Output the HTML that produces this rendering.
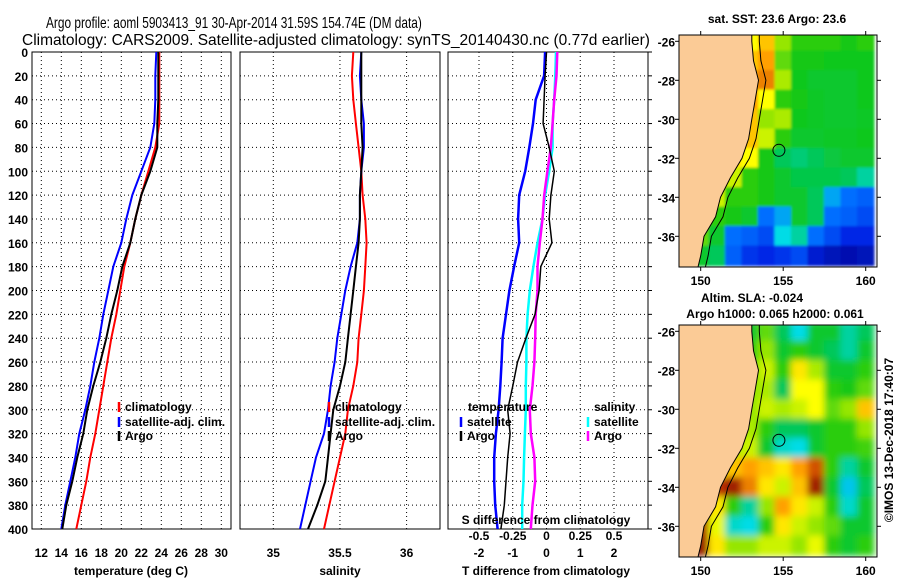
<!DOCTYPE html>
<html><head><meta charset="utf-8"><style>
html,body{margin:0;padding:0;background:#fff;}
svg{display:block;font-family:"Liberation Sans",sans-serif;}
.t{font-size:12px;font-weight:bold;}
</style></head><body>
<svg id="c" width="900" height="580" viewBox="0 0 900 580">
<defs>
<filter id="b1" x="-5%" y="-5%" width="110%" height="110%"><feGaussianBlur stdDeviation="1.2"/></filter>
<filter id="b2" x="-5%" y="-5%" width="110%" height="110%"><feGaussianBlur stdDeviation="3.5"/></filter>
<clipPath id="cm1"><rect x="679" y="35" width="198" height="232"/></clipPath>
<clipPath id="cm2"><rect x="679" y="325" width="198" height="232"/></clipPath>
</defs>
<text id="tt1" x="0" y="28" font-size="16">Argo profile: aoml 5903413_91 30-Apr-2014 31.59S 154.74E (DM data)</text>
<text id="tt2" x="0" y="45" font-size="16">Climatology: CARS2009. Satellite-adjusted climatology: synTS_20140430.nc (0.77d earlier)</text>
<g id="g"></g>
</svg>
<script>
// ---- data ----
const depths = [0,20,40,60,80,100,120,140,160,180,200,220,240,260,280,300,320,340,360,380,400];
const tempArgo = [23.7,23.7,23.7,23.6,23.6,22.9,22.0,21.4,20.9,20.1,19.6,19.0,18.5,17.9,17.2,16.6,16.2,15.6,15.1,14.5,14.1];
const tempClim = [23.8,23.8,23.8,23.8,23.4,22.7,22.0,21.4,20.9,20.3,19.9,19.5,19.0,18.6,18.2,17.8,17.4,16.9,16.5,16.0,15.5];
const tempSat  = [23.5,23.4,23.4,23.3,22.9,22.0,21.1,20.5,20.0,19.2,18.7,18.2,17.8,17.3,16.9,16.4,15.8,15.4,14.9,14.4,14.0];
const salArgo = [35.66,35.66,35.66,35.66,35.67,35.66,35.65,35.65,35.64,35.62,35.60,35.58,35.56,35.54,35.50,35.45,35.43,35.41,35.39,35.33,35.26];
const salClim = [35.60,35.59,35.60,35.62,35.64,35.66,35.67,35.69,35.70,35.69,35.68,35.66,35.64,35.63,35.60,35.56,35.54,35.50,35.46,35.42,35.38];
const salSat  = [35.66,35.65,35.66,35.68,35.68,35.66,35.65,35.65,35.63,35.58,35.54,35.51,35.48,35.46,35.43,35.41,35.38,35.32,35.28,35.24,35.20];
const dTArgo = [0.00,-0.04,-0.07,-0.10,0.08,0.23,0.13,0.08,0.16,-0.17,-0.22,-0.34,-0.61,-0.86,-1.00,-1.15,-1.08,-1.15,-1.20,-1.25,-1.35];
const dTSat  = [-0.04,-0.07,-0.32,-0.40,-0.51,-0.63,-0.81,-0.84,-0.81,-0.96,-1.10,-1.20,-1.30,-1.33,-1.37,-1.42,-1.50,-1.55,-1.55,-1.52,-1.45];
const dSSat  = [0.070,0.065,0.057,0.045,0.045,0.020,-0.010,-0.030,-0.067,-0.097,-0.124,-0.140,-0.149,-0.149,-0.153,-0.153,-0.160,-0.166,-0.170,-0.180,-0.180];
const dSArgo = [0.080,0.074,0.057,0.045,0.032,0.007,-0.017,-0.030,-0.050,-0.067,-0.067,-0.080,-0.084,-0.090,-0.104,-0.124,-0.116,-0.090,-0.084,-0.104,-0.116];
const depthTicks = [0,20,40,60,80,100,120,140,160,180,200,220,240,260,280,300,320,340,360,380,400];
const tempTicks = [12,14,16,18,20,22,24,26,28,30];
const salTicks = [35,35.5,36];
const salTickLabels = ["35","35.5","36"];
const dTTicks = [-2,-1,0,1,2];
const dSTicks = [-0.5,-0.25,0,0.25,0.5];
const dSTickLabels = ["-0.5","-0.25","0","0.25","0.5"];
const mapLons = [149,150,151,152,153,154,155,156,157,158,159,160];
const mapLats = [-26,-27,-28,-29,-30,-31,-32,-33,-34,-35,-36,-37];
const sstGrid = [
[.8,.8,.8,.8,.8,.85,.7,.6,.6,.6,.58,.6],
[.8,.8,.8,.8,.85,.88,.65,.58,.58,.57,.57,.57],
[.8,.8,.8,.8,.88,.9,.72,.57,.55,.55,.55,.57],
[.8,.8,.8,.8,.88,.8,.6,.58,.56,.55,.55,.57],
[.8,.8,.8,.8,.85,.7,.72,.57,.56,.55,.55,.56],
[.8,.8,.8,.8,.85,.75,.6,.55,.55,.56,.56,.57],
[.8,.8,.8,.82,.8,.58,.5,.48,.5,.53,.55,.55],
[.8,.8,.75,.75,.6,.58,.55,.52,.52,.52,.5,.45],
[.8,.72,.75,.6,.6,.58,.55,.55,.5,.35,.3,.28],
[.75,.7,.6,.58,.55,.3,.35,.55,.5,.3,.28,.25],
[.7,.65,.55,.3,.28,.25,.4,.45,.3,.25,.2,.2],
[.6,.55,.5,.28,.22,.2,.22,.25,.15,.1,.08,.1]];
const slaGrid = [
[.7,.7,.7,.7,.55,.65,.5,.4,.55,.55,.45,.5],
[.7,.7,.7,.7,.6,.7,.55,.6,.55,.5,.45,.55],
[.7,.7,.7,.7,.65,.75,.6,.82,.72,.55,.55,.6],
[.7,.7,.7,.7,.7,.72,.5,.8,.8,.6,.58,.65],
[.7,.7,.7,.7,.7,.75,.72,.75,.8,.65,.7,.85],
[.7,.7,.7,.7,.72,.6,.5,.5,.55,.6,.6,.7],
[.7,.7,.7,.72,.75,.55,.42,.4,.55,.6,.6,.62],
[.7,.7,.78,.85,.88,.85,.82,.88,.93,.6,.45,.55],
[.8,.88,.95,.98,.9,.82,.75,.85,.98,.55,.38,.5],
[.88,.9,.82,.6,.45,.7,.88,.82,.75,.6,.42,.55],
[.92,.97,.78,.42,.4,.6,.82,.75,.7,.65,.55,.55],
[.9,.99,.82,.7,.7,.75,.75,.7,.78,.6,.55,.6]];
const coastLat = [-25.6,-26,-27,-28,-29,-30,-31,-32,-33,-34,-35,-36,-37,-37.7];
const coastLon = [153.1,153.1,153.2,153.5,153.3,153.1,152.9,152.5,151.8,151.2,150.9,150.2,150.0,149.8];
const argoLon = 154.74, argoLat = -31.59;

// ---- titles: fit to measured extents ----
function fitTitle(id,x0,x1){
  const t=document.getElementById(id);
  const w=t.getComputedTextLength();
  const s=(x1-x0)/w;
  t.setAttribute('transform','translate('+x0+',0) scale('+s.toFixed(4)+',1)');
}
fitTitle('tt1',46,422);
fitTitle('tt2',22,650);

// ---- helpers ----
const NS="http://www.w3.org/2000/svg";
const G=document.getElementById('g');
function mk(tag,attrs,parent){const e=document.createElementNS(NS,tag);for(const k in attrs)e.setAttribute(k,attrs[k]);(parent||G).appendChild(e);return e;}
const Y0=52,Y1=529;
const yD=d=>Y0+(d/400)*(Y1-Y0);
const xT=t=>41.3+(t-12)*10;
const xS=s=>273.3+(s-35)*133.3;
const xDT=v=>546.5+v*33.75;
const xDS=v=>546.5+v*135;

function panel(x0,x1,name){
  const g=mk('g',{});  
  mk('rect',{x:x0,y:Y0,width:x1-x0,height:Y1-Y0,fill:'none',stroke:'#000','stroke-width':1},g);
  depthTicks.forEach(d=>{ if(d>0&&d<400) mk('line',{x1:x0,x2:x1,y1:yD(d),y2:yD(d),stroke:'#000','stroke-width':1,'stroke-dasharray':'1,3'},g);});
  return g;
}
function vgrid(g,xs){xs.forEach(x=>{mk('line',{x1:x,x2:x,y1:Y0,y2:Y1,stroke:'#000','stroke-width':1,'stroke-dasharray':'1,3'},g);});}
function line(g,xs,ys,col,name,w){
  const pts=xs.map((v,i)=>xs[i].toFixed(1)+','+ys[i].toFixed(1)).join(' ');
  const p=mk('polyline',{points:pts,fill:'none',stroke:col,'stroke-width':w||2},g);
  
  
}
function txt(g,x,y,s,anchor,extra){const t=mk('text',Object.assign({x:x,y:y,'text-anchor':anchor||'start',class:'t'},extra||{}),g);t.textContent=s;return t;}
function legend(g,x,y,col,label){mk('line',{x1:x,x2:x,y1:y-9,y2:y+1,stroke:col,'stroke-width':2.5},g);txt(g,x+6,y,label);}

// ---- panel 1: temperature ----
const p1=panel(32,231,'temperature-panel');
vgrid(p1,tempTicks.map(xT));
depthTicks.forEach(d=>{const t=txt(p1,28,yD(d)+5,String(d),'end');});
tempTicks.forEach(t=>{txt(p1,xT(t),557,String(t),'middle');});
txt(p1,131,575,'temperature (deg C)','middle');
line(p1,tempClim.map(xT),depths.map(yD),'#f00','temp-climatology-line');
line(p1,tempSat.map(xT),depths.map(yD),'#00f','temp-satellite-line');
line(p1,tempArgo.map(xT),depths.map(yD),'#000','temp-argo-line');
legend(p1,119,411,'#f00','climatology');legend(p1,119,426,'#00f','satellite-adj. clim.');legend(p1,119,440,'#000','Argo');

// ---- panel 2: salinity ----
const p2=panel(240,440,'salinity-panel');
vgrid(p2,salTicks.map(xS));
salTicks.forEach((s,i)=>{txt(p2,xS(s),557,salTickLabels[i],'middle');});
txt(p2,340,575,'salinity','middle');
line(p2,salClim.map(xS),depths.map(yD),'#f00','sal-climatology-line');
line(p2,salSat.map(xS),depths.map(yD),'#00f','sal-satellite-line');
line(p2,salArgo.map(xS),depths.map(yD),'#000','sal-argo-line');
legend(p2,329,411,'#f00','climatology');legend(p2,329,426,'#00f','satellite-adj. clim.');legend(p2,329,440,'#000','Argo');

// ---- panel 3: differences ----
const p3=panel(448,648,'difference-panel');
vgrid(p3,dTTicks.map(xDT));
depthTicks.forEach(d=>{mk('line',{x1:648,x2:652,y1:yD(d),y2:yD(d),stroke:'#000'},p3);});
dTTicks.forEach(t=>{txt(p3,xDT(t),557,String(t),'middle');});
txt(p3,546,575,'T difference from climatology','middle');
line(p3,dSSat.map(xDS),depths.map(yD),'#0ff','sdiff-satellite-line',2.5);
line(p3,dSArgo.map(xDS),depths.map(yD),'#f0f','sdiff-argo-line',2.5);
line(p3,dTSat.map(xDT),depths.map(yD),'#00f','tdiff-satellite-line',2.5);
line(p3,dTArgo.map(xDT),depths.map(yD),'#000','tdiff-argo-line',1.5);
txt(p3,468,411,'temperature');txt(p3,594,411,'salinity');
legend(p3,461,426,'#00f','satellite');legend(p3,461,440,'#000','Argo');
legend(p3,588,426,'#0ff','satellite');legend(p3,588,440,'#f0f','Argo');
txt(p3,546,524,'S difference from climatology','middle');
dSTicks.forEach((s,i)=>{txt(p3,xDS(s),540,dSTickLabels[i],'middle');});

// ---- maps ----
const xL=lon=>700.7+(lon-150)*16.5;
function cmap(v){
  const st=[[0,[0,0,140]],[0.2,[0,40,230]],[0.3,[0,110,255]],[0.4,[0,220,230]],[0.5,[0,200,90]],[0.58,[20,200,20]],[0.7,[150,230,0]],[0.8,[255,255,0]],[0.88,[255,160,0]],[0.95,[190,50,0]],[1,[140,20,0]]];
  for(let i=1;i<st.length;i++){if(v<=st[i][0]){const a=st[i-1],b=st[i],f=(v-a[0])/(b[0]-a[0]);return 'rgb('+a[1].map((c,j)=>Math.round(c+(b[1][j]-c)*f)).join(',')+')';}}
  return 'rgb(140,20,0)';
}
function map(top,grid,name,blur,clip){
  const yL=lat=>top+6.3+(-26-lat)*19.5;
  const g=mk('g',{});  
  const hg=mk('g',{filter:'url(#'+blur+')'},mk('g',{'clip-path':'url(#'+clip+')'},g));
  grid.forEach((row,r)=>row.forEach((v,c)=>{
    const cell=mk('rect',{x:xL(mapLons[c]-0.5)-0.5,y:yL(mapLats[r]+0.5)-0.5,width:17.5,height:20.5,fill:cmap(v)},hg);
    
    
  }));
  const cg=mk('g',{'clip-path':'url(#'+clip+')'},g);
  const land=coastLon.map((lo,i)=>xL(lo).toFixed(1)+','+yL(coastLat[i]).toFixed(1)).join(' ');
  const lp=mk('polygon',{points:'679,'+yL(-25.6)+' '+land+' 679,'+yL(-37.7),fill:'#fbcb96',stroke:'#000','stroke-width':1},cg);
  
  const shelf=coastLon.map((lo,i)=>xL(lo+0.45).toFixed(1)+','+yL(coastLat[i]).toFixed(1)).join(' ');
  mk('polyline',{points:shelf,fill:'none',stroke:'#000','stroke-width':1},cg);
  mk('rect',{x:679,y:top,width:198,height:232,fill:'none',stroke:'#000'},g);
  const ci=mk('circle',{cx:xL(argoLon),cy:yL(argoLat),r:6,fill:'none',stroke:'#000','stroke-width':1},g);
  
  [-26,-28,-30,-32,-34,-36].forEach(l=>{
    mk('line',{x1:679,x2:675,y1:yL(l),y2:yL(l),stroke:'#000'},g);
    mk('line',{x1:877,x2:881,y1:yL(l),y2:yL(l),stroke:'#000'},g);
    txt(g,675,yL(l)+5,String(l),'end');
  });
  [150,155,160].forEach(lo=>{
    mk('line',{x1:xL(lo),x2:xL(lo),y1:top,y2:top-4,stroke:'#000'},g);
    mk('line',{x1:xL(lo),x2:xL(lo),y1:top+232,y2:top+236,stroke:'#000'},g);
    txt(g,xL(lo),top+250,String(lo),'middle');
  });
}
map(35,sstGrid,'sst-map','b1','cm1');
map(325,slaGrid,'sla-map','b2','cm2');
txt(G,777,23,'sat. SST: 23.6 Argo: 23.6','middle');
txt(G,752,302,'Altim. SLA: -0.024','middle');
txt(G,775,318,'Argo h1000: 0.065 h2000: 0.061','middle');
txt(G,893,440,'©IMOS 13-Dec-2018 17:40:07','middle',{transform:'rotate(-90 893 440)'});
</script>
</body></html>
